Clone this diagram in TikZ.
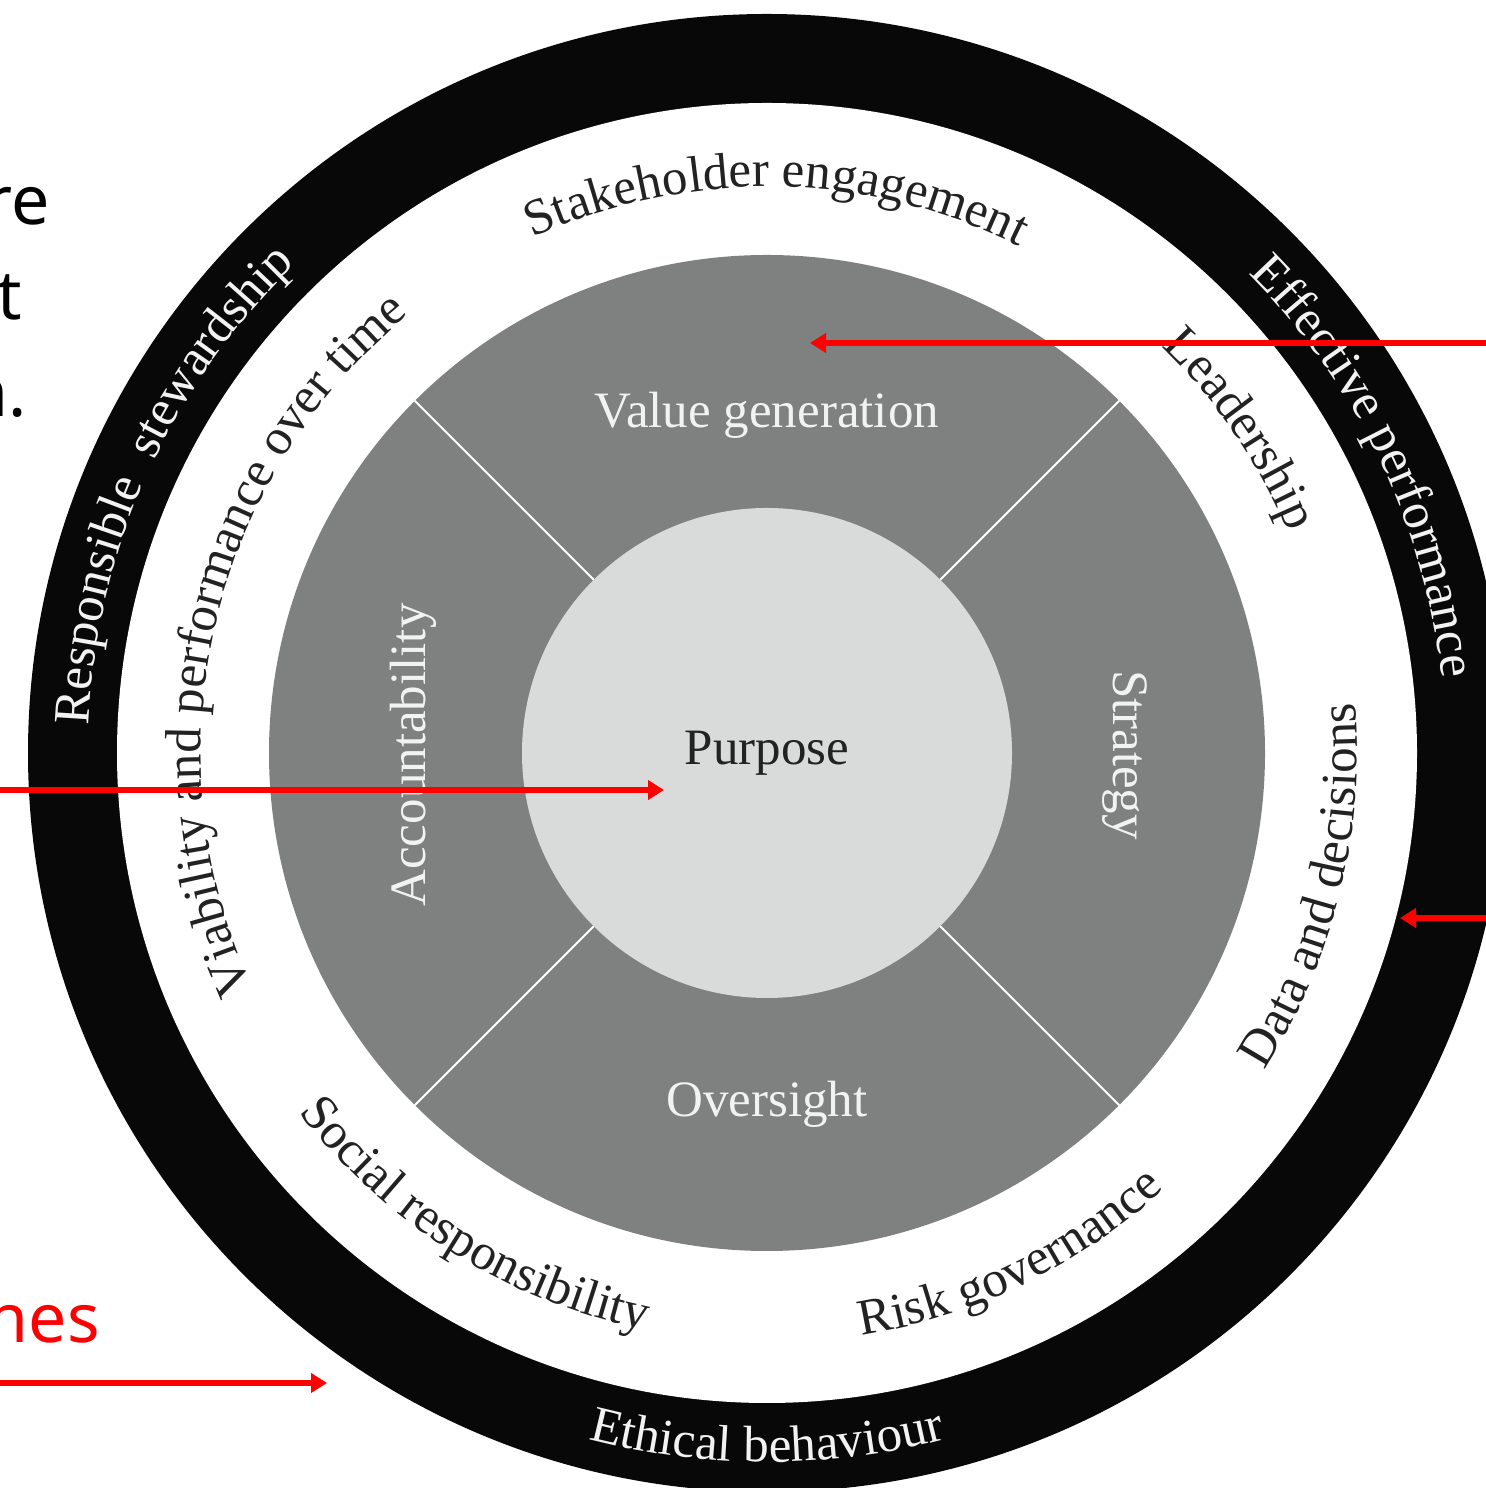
\documentclass[tikz,border=0pt]{standalone}
\usepackage{fontspec}
\setmainfont{Liberation Serif}
\newfontfamily\annfont{Noto Sans}
\usetikzlibrary{decorations.text,arrows.meta}
\definecolor{ringblack}{RGB}{8,8,8}
\definecolor{midgray}{RGB}{127,128,128}
\definecolor{lightdisk}{RGB}{217,218,218}
\definecolor{labeldark}{RGB}{34,34,34}
\definecolor{labelwhite}{RGB}{242,242,242}
\definecolor{annred}{RGB}{255,0,0}
\newcommand\ringfont{\fontsize{25.5}{30}\selectfont}
\newcommand\annsize{\fontsize{34}{40}\selectfont}
% clockwise label: centre angle, baseline radius, colour, text
\newcommand\cwlabel[4]{%
  \path[decorate, decoration={text along path, text align=center, text color=#3,
      text={|\ringfont|#4}}]
    ([shift={(C)}]#1+70:#2) arc[start angle=#1+70, end angle=#1-70, radius=#2];}
% counter-clockwise label
\newcommand\ccwlabel[4]{%
  \path[decorate, decoration={text along path, text align=center, text color=#3,
      text={|\ringfont|#4}}]
    ([shift={(C)}]#1-70:#2) arc[start angle=#1-70, end angle=#1+70, radius=#2];}
\begin{document}
\begin{tikzpicture}[x=0.5pt,y=0.5pt,
  redarrow/.style={draw=annred, line width=2.6pt, -{Triangle[length=8pt,width=9.5pt]}},
  innerlabel/.style={text=labelwhite, font=\ringfont, inner sep=0pt},
  sepline/.style={draw=white, line width=1pt},
  annlabel/.style={font=\annfont\annsize, inner sep=0pt, anchor=base east}]
\useasboundingbox (0,0) rectangle (1486,1488);
\clip (0,0) rectangle (1486,1488);
\fill[white] (0,0) rectangle (1486,1488);
\coordinate (C) at (767,735);
% rings
\fill[ringblack] (C) circle[radius=739];
\fill[white] (C) circle[radius=650];
\fill[midgray] (C) circle[radius=498];
\foreach \a in {45,135,225,315} \draw[sepline] (C) -- ++(\a:498);
\node[circle, fill=lightdisk, minimum size=245pt, inner sep=0pt] (purposedisk) at (C) {};
\node[font=\ringfont, text=labeldark, anchor=base, inner sep=0pt] (purpose) at (767,723) {Purpose};
% sector labels
\node[innerlabel, anchor=base] (value) at (767,1060) {Value generation};
\node[innerlabel, anchor=base] (oversight) at (767,371) {Oversight};
\node[innerlabel, anchor=base, rotate=90] (account) at (425,733) {Accountability};
\node[innerlabel, anchor=base, rotate=-90] (strategy) at (1113,733) {Strategy};
% white ring labels
\cwlabel{89}{566}{labeldark}{Stakeholder engagement}
\cwlabel{34.4}{566}{labeldark}{Leadership}
\cwlabel{166.9}{566}{labeldark}{Viability and performance over time}
\ccwlabel{-13.8}{590}{labeldark}{Data and decisions}
\ccwlabel{-64.2}{590}{labeldark}{Risk governance}
\ccwlabel{-122.2}{590}{labeldark}{Social responsibility}
% black ring labels
\cwlabel{155.8}{679}{labelwhite}{Responsible {\hspace*{0.25em}}stewardship}
\cwlabel{25.6}{679}{labelwhite}{Effective performance}
\ccwlabel{-90}{709}{labelwhite}{Ethical behaviour}
% cropped annotation text
\node[annlabel] (ann1) at (50,1263) {re};
\node[annlabel] (ann2) at (22,1168) {t};
\node[annlabel] (ann3) at (27,1071) {n.};
\node[annlabel, text=annred] (ann4) at (100,145) {nes};
% red arrows
\coordinate (a1s) at (1490,1145); \coordinate (a1e) at (810,1145);
\coordinate (a2s) at (-4,698);    \coordinate (a2e) at (664,698);
\coordinate (a3s) at (1490,570);  \coordinate (a3e) at (1400,570);
\coordinate (a4s) at (-4,105);    \coordinate (a4e) at (327,105);
\draw[redarrow] (a1s) -- (a1e);
\draw[redarrow] (a2s) -- (a2e);
\draw[redarrow] (a3s) -- (a3e);
\draw[redarrow] (a4s) -- (a4e);
\end{tikzpicture}
\end{document}
